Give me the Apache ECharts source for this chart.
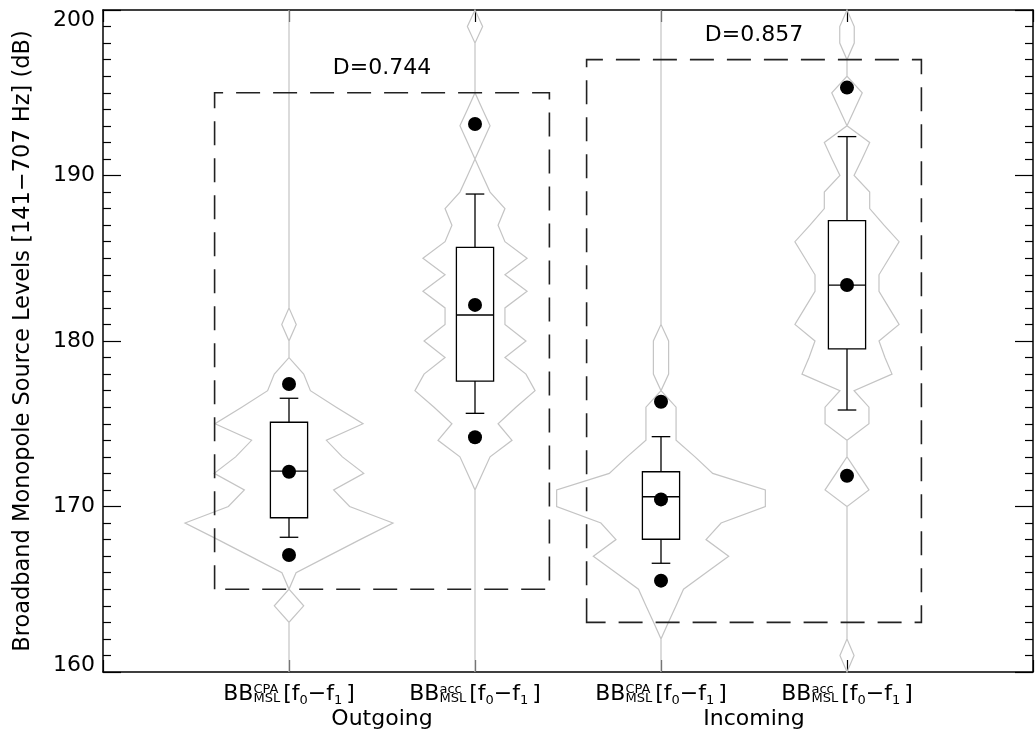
<!DOCTYPE html>
<html>
<head>
<meta charset="utf-8">
<script src="https://cdn.jsdelivr.net/npm/echarts@6/dist/echarts.min.js"></script>
<style>html,body{margin:0;padding:0;background:#fff}#c{width:1035px;height:733px}</style>
</head>
<body>
<div id="c"></div>
<script>
// ---------- data ----------
const categories = [1, 2, 3, 4];
const catSup = ['CPA', 'acc', 'CPA', 'acc'];
const groupLabels = ['Outgoing', 'Incoming'];
const groupPos = [1.5, 3.5];
const yTicks = [160, 170, 180, 190, 200];
const yTitle = 'Broadband Monopole Source Levels [141\u2212707 Hz] (dB)';

// box-plot statistics (dB)
const whiskerLow  = [168.14, 175.63, 166.57, 175.83];
const q1          = [169.32, 177.58, 168.02, 179.52];
const median      = [172.14, 181.57, 170.59, 183.38];
const q3          = [175.09, 185.66, 172.10, 187.27];
const whiskerHigh = [176.54, 188.88, 174.22, 192.35];

// black dots (dB)
const dotLow  = [167.07, 174.18, 165.52, 171.86];
const dotMid  = [172.10, 182.18, 170.43, 183.38];
const dotHigh = [177.40, 193.11, 176.33, 195.31];

// violin density levels (dB) and half-widths (hundredths of a category step)
const levels = [200,199,198,197,196,195,194,193,192,191,190,189,188,187,186,185,184,183,182,181,
                180,179,178,177,176,175,174,173,172,171,170,169,168,167,166,165,164,163,162,161,160];
const violin1 = [0,0,0,0,0,0,0,0,0,0,0,0,0,0,0,0,0,0,0,3.9,
                 0,0,7.9,11.5,25.4,39.8,20.1,28.7,40.2,24.0,32.6,55.9,38.2,21.0,3.8,0,7.9,0,0,0,0];
const violin2 = [0,4.1,0,0,0,0,4.0,8.1,4.0,0,4.0,8.1,16.1,12.4,16.1,28.0,16.1,28.0,16.1,16.1,
                 27.4,16.1,27.4,32.3,22.0,12.4,19.9,8.1,4.0,0,0,0,0,0,0,0,0,0,0,0,0];
const violin3 = [0,0,0,0,0,0,0,0,0,0,0,0,0,0,0,0,0,0,0,0,
                 4.1,4.1,4.1,0,8.1,8.1,8.1,18.3,27.8,56.1,56.1,32.3,24.2,36.4,24.2,12.1,8.1,4.0,0,0,0];
const violin4 = [0,3.9,3.9,0,0,8.2,4.1,0,12.2,8.1,3.8,12.2,12.2,19.9,28.0,22.6,17.2,17.2,22.6,28.0,
                 17.2,20.4,24.2,3.8,11.8,11.8,0,0,5.9,11.8,0,0,0,0,0,0,0,0,0,3.8,0];

// comparison boxes
const rectLeft   = [0.6, 2.6];
const rectRight  = [2.4, 4.4];
const rectTop    = [195, 197];
const rectBottom = [165, 163];
const rectLabels = ['D=0.744', 'D=0.857'];

// ---------- rendering ----------
const FONT_NAME = '"DejaVu Sans", sans-serif';
const GREY = '#c4c4c4';
const violins = [violin1, violin2, violin3, violin4];
const BOX_HALF = 0.1, CAP_HALF = 0.05;

const mctx = document.createElement('canvas').getContext('2d');
function tw(t, s) { mctx.font = s + 'px ' + FONT_NAME; return mctx.measureText(t).width; }
function txt(t, x, y, s, align) {
  return { type: 'text', x: x, y: y, silent: true,
    style: { text: t, font: s + 'px ' + FONT_NAME, fill: '#000',
      align: align || 'left', verticalAlign: 'middle',
      textAlign: align || 'left', textVerticalAlign: 'middle' } };
}

const chart = echarts.init(document.getElementById('c'), null, { renderer: 'canvas' });

const axisLineStyle = { color: '#000', width: 1.5 };
const xAxisBase = {
  type: 'value', min: 0, max: 5, interval: 1,
  axisLine: { show: true, onZero: false, lineStyle: axisLineStyle },
  axisTick: { show: true, inside: true, length: 12, lineStyle: { color: '#000', width: 1.2 } },
  axisLabel: { show: false }, splitLine: { show: false }
};
const yAxisBase = {
  type: 'value', min: 160, max: 200, interval: 10,
  axisLine: { show: true, onZero: false, lineStyle: axisLineStyle },
  axisTick: { show: true, inside: true, length: 18, lineStyle: { color: '#000', width: 1.2 } },
  minorTick: { show: true, splitNumber: 10, length: 8, lineStyle: { color: '#000', width: 1.2 } },
  splitLine: { show: false }
};

const option = {
  animation: false,
  backgroundColor: '#fff',
  grid: { left: 103, right: 2, top: 10, bottom: 61, containLabel: false },
  xAxis: [
    Object.assign({}, xAxisBase, { position: 'bottom' }),
    Object.assign({}, xAxisBase, { position: 'top' })
  ],
  yAxis: [
    Object.assign({}, yAxisBase, {
      position: 'left',
      axisLabel: {
        show: true, margin: 8, color: '#000', fontSize: 22, fontFamily: FONT_NAME,
        showMinLabel: true, showMaxLabel: true,
        formatter: function (v) {
          if (v === yTicks[yTicks.length - 1]) return '{t|' + v + '}';
          if (v === yTicks[0]) return '{b|' + v + '}';
          return String(v);
        },
        rich: {
          t: { fontSize: 22, fontFamily: FONT_NAME, color: '#000', padding: [20, 0, 0, 0] },
          b: { fontSize: 22, fontFamily: FONT_NAME, color: '#000', padding: [0, 0, 14, 0] }
        }
      }
    }),
    Object.assign({}, yAxisBase, { position: 'right', axisLabel: { show: false } })
  ],
  graphic: [{
    type: 'text', x: 23, y: 341, rotation: Math.PI / 2, silent: true,
    style: { text: yTitle, font: '22.5px ' + FONT_NAME, fill: '#000',
      align: 'center', verticalAlign: 'middle', textAlign: 'center', textVerticalAlign: 'middle' }
  }],
  series: [
    // violins
    {
      type: 'custom', xAxisIndex: 0, yAxisIndex: 0, silent: true, z: 1,
      data: categories.map((x, i) => [x, median[i]]),
      renderItem: function (params, api) {
        const i = params.dataIndex;
        const x = categories[i];
        const w = violins[i];
        const pts = [];
        for (let k = 0; k < levels.length; k++) pts.push(api.coord([x + w[k] / 100, levels[k]]));
        for (let k = levels.length - 1; k >= 0; k--) pts.push(api.coord([x - w[k] / 100, levels[k]]));
        return { type: 'polygon', shape: { points: pts },
          style: { fill: 'none', stroke: GREY, lineWidth: 1.2 } };
      }
    },
    // dashed comparison rectangles with D labels
    {
      type: 'custom', xAxisIndex: 0, yAxisIndex: 0, silent: true, z: 2,
      data: rectLeft.map((x0, i) => [x0, rectTop[i], rectRight[i], rectBottom[i]]),
      encode: { x: [0, 2], y: [1, 3] },
      renderItem: function (params, api) {
        const i = params.dataIndex;
        const tl = api.coord([rectLeft[i], rectTop[i]]);
        const br = api.coord([rectRight[i], rectBottom[i]]);
        return { type: 'group', children: [
          { type: 'polygon',
            shape: { points: [[tl[0], br[1]], [tl[0], tl[1]], [br[0], tl[1]], [br[0], br[1]]] },
            style: { fill: 'none', stroke: '#222', lineWidth: 1.6, lineDash: [24, 13] } },
          txt(rectLabels[i], (tl[0] + br[0]) / 2, tl[1] - 24, 22, 'center')
        ] };
      }
    },
    // box plots
    {
      type: 'custom', xAxisIndex: 0, yAxisIndex: 0, silent: true, z: 3,
      data: categories.map((x, i) => [x, whiskerLow[i], q1[i], median[i], q3[i], whiskerHigh[i]]),
      encode: { x: 0, y: [1, 2, 3, 4, 5] },
      renderItem: function (params, api) {
        const i = params.dataIndex;
        const x = categories[i];
        const c = (xx, yy) => api.coord([xx, yy]);
        const tl = c(x - BOX_HALF, q3[i]), br = c(x + BOX_HALF, q1[i]);
        const st = { stroke: '#000', lineWidth: 1.3, fill: 'none' };
        const ln = (a, b) => ({ type: 'line', shape: { x1: a[0], y1: a[1], x2: b[0], y2: b[1] }, style: st });
        return { type: 'group', children: [
          { type: 'rect', shape: { x: tl[0], y: tl[1], width: br[0] - tl[0], height: br[1] - tl[1] }, style: st },
          ln(c(x - BOX_HALF, median[i]), c(x + BOX_HALF, median[i])),
          ln(c(x, q3[i]), c(x, whiskerHigh[i])),
          ln(c(x - CAP_HALF, whiskerHigh[i]), c(x + CAP_HALF, whiskerHigh[i])),
          ln(c(x, q1[i]), c(x, whiskerLow[i])),
          ln(c(x - CAP_HALF, whiskerLow[i]), c(x + CAP_HALF, whiskerLow[i]))
        ] };
      }
    },
    // dots
    {
      type: 'scatter', xAxisIndex: 0, yAxisIndex: 0, silent: true, z: 4,
      symbol: 'circle', symbolSize: 14,
      itemStyle: { color: '#000', opacity: 1 },
      data: categories.flatMap((x, i) => [[x, dotLow[i]], [x, dotMid[i]], [x, dotHigh[i]]])
    },
    // category labels under the axis
    {
      type: 'custom', xAxisIndex: 0, yAxisIndex: 0, silent: true, z: 5, clip: false,
      data: categories.map((x, i) => [x, yTicks[0]]),
      renderItem: function (params, api) {
        const i = params.dataIndex;
        const p = api.coord([categories[i], yTicks[0]]);
        const big = 22, small = 13;
        const cy = p[1] + 22;
        const pieces = [
          { t: 'BB', s: big, dy: 0 },
          { stack: [catSup[i], 'MSL'], s: small, dy: [-4.5, 5] },
          { gap: 3 },
          { t: '[', s: big, dy: 0 },
          { t: 'f', s: big, dy: 0 },
          { t: '0', s: small, dy: 7 },
          { t: '\u2212', s: big, dy: 0 },
          { t: 'f', s: big, dy: 0 },
          { t: '1', s: small, dy: 7 },
          { gap: 4 },
          { t: ']', s: big, dy: 0 }
        ];
        let total = 0;
        pieces.forEach(pc => {
          if (pc.gap) pc.w = pc.gap;
          else if (pc.stack) pc.w = Math.max(tw(pc.stack[0], pc.s), tw(pc.stack[1], pc.s));
          else pc.w = tw(pc.t, pc.s);
          total += pc.w;
        });
        let x = p[0] - total / 2;
        const children = [];
        pieces.forEach(pc => {
          if (pc.stack) {
            children.push(txt(pc.stack[0], x, cy + pc.dy[0], pc.s));
            children.push(txt(pc.stack[1], x, cy + pc.dy[1], pc.s));
          } else if (pc.t) {
            children.push(txt(pc.t, x, cy + pc.dy, pc.s));
          }
          x += pc.w;
        });
        if (i % 2 === 0) {
          const g = api.coord([groupPos[i / 2], yTicks[0]]);
          children.push(txt(groupLabels[i / 2], g[0], p[1] + 47, 22, 'center'));
        }
        return { type: 'group', children: children };
      }
    }
  ]
};
chart.setOption(option);
</script>
</body>
</html>
